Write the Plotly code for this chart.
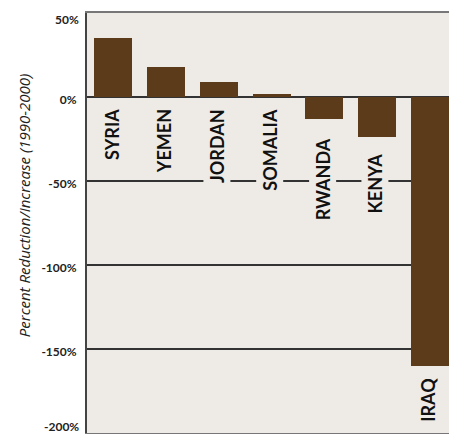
import plotly.graph_objects as go

countries = ["SYRIA", "YEMEN", "JORDAN", "SOMALIA", "RWANDA", "KENYA", "IRAQ"]
change_pct = [35, 18, 9, 2, -13, -24, -160]
y_ticks = [0, -50, -100, -150]
y_tick_text = ["0%", "-50%", "-100%", "-150%"]
y_end_ticks = [50, -200]
y_end_text = ["50%", "-200%"]
y_title = "Percent Reduction/Increase (1990-2000)"

# style: extra gap (px) between bar end / baseline and each country label
label_gap = [9, 9, 9, 9, 16, 13, 9]
end_tick_shift = [-6, 7]

BAR = "#5C3B1A"
BG = "#EEEAE6"
FONT = "Lato"
TICKFONT = dict(family=FONT, size=12, color="#222222", weight="bold")

fig = go.Figure()
fig.add_trace(go.Bar(
    x=countries, y=change_pct, marker=dict(color=BAR, line=dict(width=0)),
    width=0.72, hoverinfo="skip",
))

for c, v, g in zip(countries, change_pct, label_gap):
    fig.add_annotation(
        x=c, y=min(0, v), xref="x", yref="y", text=c, textangle=-90,
        showarrow=False, yanchor="top", xanchor="center", yshift=-g, xshift=-2,
        font=dict(family=FONT, size=18, color="#111111", weight="bold"),
        bgcolor=BG, borderpad=2,
    )

for v, t, s in zip(y_end_ticks, y_end_text, end_tick_shift):
    fig.add_annotation(
        x=0, xref="paper", y=v, yref="y", text=t, showarrow=False,
        xanchor="right", yanchor="middle", xshift=-6, yshift=s, font=TICKFONT,
    )

fig.add_annotation(
    x=0, xref="paper", y=0.54, yref="paper", text=f"<i>{y_title}</i>",
    textangle=-90, showarrow=False, xanchor="center", yanchor="middle",
    xshift=-63, font=dict(family="Open Sans", size=15, color="#222222"),
)

fig.update_layout(
    width=449, height=434,
    margin=dict(l=87, r=0, t=13, b=1, autoexpand=False),
    paper_bgcolor="white", plot_bgcolor=BG,
    showlegend=False, bargap=0,
    font=dict(family=FONT),
    xaxis=dict(
        range=[-0.5, 6.36], showticklabels=False, ticks="", showgrid=False,
        showline=True, mirror=True, linecolor="#777777", linewidth=1.5,
        zeroline=False, automargin=False,
    ),
    yaxis=dict(
        range=[-200, 50], tickvals=y_ticks, ticktext=y_tick_text,
        tickfont=TICKFONT, ticklabelshift=3,
        ticks="", ticklabelstandoff=6, automargin=False,
        showgrid=True, gridcolor="#333333", gridwidth=1.5,
        zeroline=True, zerolinecolor="#333333", zerolinewidth=1.5,
        showline=True, linecolor="#444444", linewidth=2,
    ),
)

fig.write_html("out.html", config={"displayModeBar": False},
               post_script="document.body.style.margin='0px';")
